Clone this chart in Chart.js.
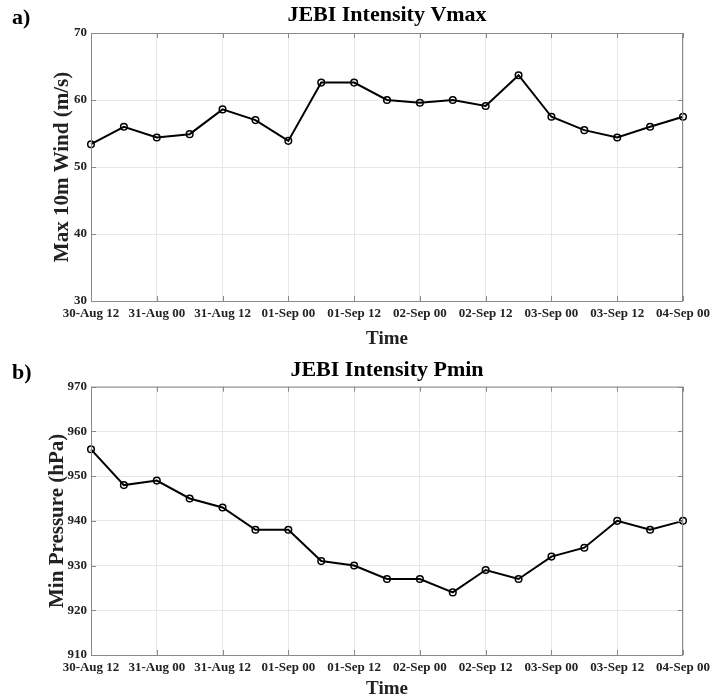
<!DOCTYPE html>
<html>
<head>
<meta charset="utf-8">
<title>JEBI Intensity</title>
<script src="https://cdn.jsdelivr.net/npm/chart.js@4.4.1/dist/chart.umd.min.js"></script>
<style>
    html, body { margin: 0; padding: 0; background: #fff; }
    canvas { display: block; }
</style>
</head>
<body>
<canvas id="vmaxChart" width="710" height="350"></canvas>
<canvas id="pminChart" width="710" height="350"></canvas>
<script>
// 6-hourly times, labels shown every 12 h
const timeLabels = [
    '30-Aug 12', '30-Aug 18', '31-Aug 00', '31-Aug 06', '31-Aug 12', '31-Aug 18',
    '01-Sep 00', '01-Sep 06', '01-Sep 12', '01-Sep 18', '02-Sep 00', '02-Sep 06',
    '02-Sep 12', '02-Sep 18', '03-Sep 00', '03-Sep 06', '03-Sep 12', '03-Sep 18',
    '04-Sep 00'
];

const vmaxValues = [
    53.4, 56.0, 54.4, 54.9, 58.6, 57.0, 53.9, 62.6, 62.6, 60.0,
    59.6, 60.0, 59.1, 63.7, 57.5, 55.5, 54.4, 56.0, 57.5
];

const pminValues = [
    956, 948, 949, 945, 943, 938, 938, 931, 930, 927,
    927, 924, 929, 927, 932, 934, 940, 938, 940
];

const vmaxRange = [30, 70];
const pminRange = [910, 970];

const FONT = '"Liberation Serif", "Times New Roman", serif';
const GRID = '#e6e6e6';
const AXIS = '#8a8a8a';

// рамка вокруг осей + внутренние засечки + буква панели
const framePlugin = {
    id: 'frame',
    afterDraw(chart, args, opts) {
        const { ctx, chartArea: a, scales } = chart;
        const tick = 5;
        ctx.save();
        ctx.strokeStyle = AXIS;
        ctx.lineWidth = 1;
        ctx.strokeRect(a.left + 0.5, a.top + 0.5, a.right - a.left - 1, a.bottom - a.top);

        ctx.beginPath();
        scales.x.ticks.forEach((t, i) => {
            if (i % 2 !== 0) return;
            const px = Math.round(scales.x.getPixelForTick(i)) + 0.5;
            ctx.moveTo(px, a.bottom);
            ctx.lineTo(px, a.bottom - tick);
            ctx.moveTo(px, a.top);
            ctx.lineTo(px, a.top + tick);
        });
        scales.y.ticks.forEach((t, i) => {
            const py = Math.round(scales.y.getPixelForTick(i)) + 0.5;
            ctx.moveTo(a.left, py);
            ctx.lineTo(a.left + tick, py);
            ctx.moveTo(a.right, py);
            ctx.lineTo(a.right - tick, py);
        });
        ctx.stroke();

        ctx.fillStyle = '#000';
        ctx.font = 'bold 22px ' + FONT;
        ctx.textBaseline = 'alphabetic';
        ctx.fillText(opts.letter, 12, opts.letterY);
        ctx.restore();
    }
};

function createChart(id, values, s) {
    return new Chart(document.getElementById(id), {
        type: 'line',
        data: {
            labels: timeLabels,
            datasets: [{
                data: values,
                borderColor: '#000',
                borderWidth: 2,
                tension: 0,
                pointStyle: 'circle',
                pointRadius: 3.3,
                pointBorderWidth: 1.5,
                pointBorderColor: '#000',
                pointBackgroundColor: 'rgba(0,0,0,0)'
            }]
        },
        plugins: [framePlugin],
        options: {
            responsive: false,
            animation: false,
            layout: { padding: { left: 0, right: 27, top: 0, bottom: 0 } },
            scales: {
                x: {
                    type: 'category',
                    offset: false,
                    afterFit: scale => {
                        scale.height = s.xHeight;
                        scale.paddingLeft = 0;
                        scale.paddingRight = 0;
                    },
                    border: { display: false },
                    grid: {
                        drawTicks: false,
                        color: ctx => (ctx.index % 2 === 0 ? GRID : 'rgba(0,0,0,0)')
                    },
                    ticks: {
                        autoSkip: false,
                        maxRotation: 0,
                        padding: 5,
                        color: '#222',
                        font: { family: FONT, size: 13, weight: 'bold' },
                        callback: function (v, i) {
                            return i % 2 === 0 ? this.getLabelForValue(v) : '';
                        }
                    },
                    title: {
                        display: true,
                        text: 'Time',
                        color: '#222',
                        padding: { top: s.timePad, bottom: 0 },
                        font: { family: FONT, size: 19, weight: 'bold' }
                    }
                },
                y: {
                    min: s.range[0],
                    max: s.range[1],
                    afterFit: scale => { scale.width = 91; },
                    border: { display: false },
                    grid: { drawTicks: false, color: GRID },
                    ticks: {
                        stepSize: 10,
                        padding: 4,
                        color: '#222',
                        font: { family: FONT, size: 13, weight: 'bold' }
                    },
                    title: {
                        display: true,
                        text: s.yTitle,
                        color: '#222',
                        padding: { top: s.yTitlePad, bottom: 0 },
                        font: { family: FONT, size: 21, weight: 'bold' }
                    }
                }
            },
            plugins: {
                legend: { display: false },
                tooltip: { enabled: false },
                title: {
                    display: true,
                    fullSize: false,
                    text: s.title,
                    color: '#000',
                    padding: s.titlePad,
                    font: { family: FONT, size: 22, weight: 'bold' }
                },
                frame: { letter: s.letter, letterY: s.letterY }
            }
        }
    });
}

let vmaxChart = createChart('vmaxChart', vmaxValues, {
    title: 'JEBI Intensity Vmax',
    titlePad: { top: 2.5, bottom: 4.1 },
    yTitle: 'Max 10m Wind (m/s)',
    yTitlePad: 50,
    range: vmaxRange,
    xHeight: 49,
    timePad: 5,
    letter: 'a)',
    letterY: 24
});

let pminChart = createChart('pminChart', pminValues, {
    title: 'JEBI Intensity Pmin',
    titlePad: { top: 7, bottom: 3.3 },
    yTitlePad: 45,
    yTitle: 'Min Pressure (hPa)',
    range: pminRange,
    xHeight: 45,
    timePad: 1,
    letter: 'b)',
    letterY: 29
});
</script>
</body>
</html>
